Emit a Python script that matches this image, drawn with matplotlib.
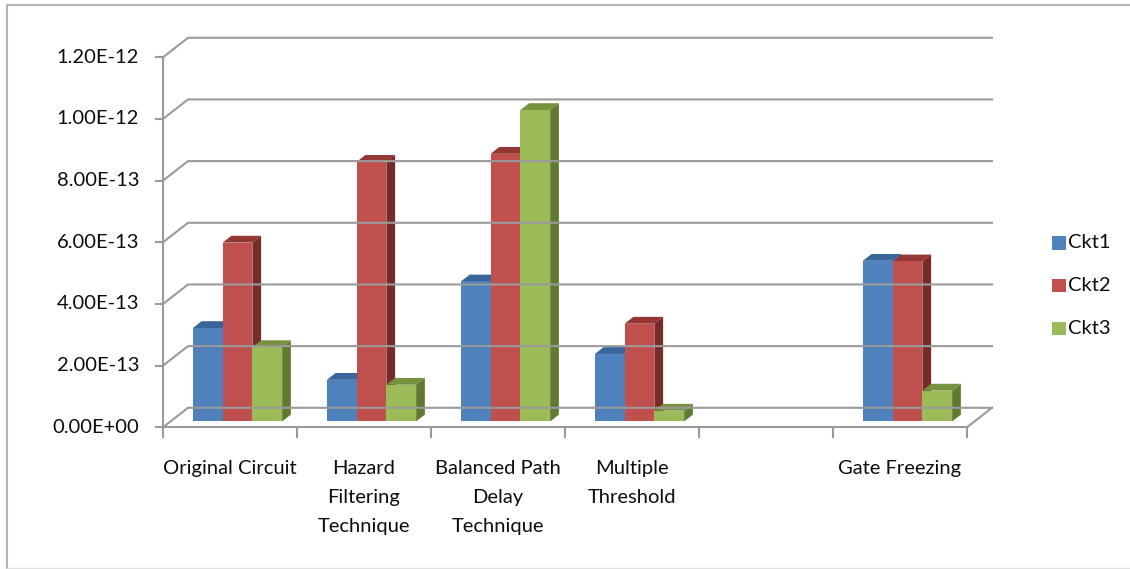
import matplotlib
matplotlib.use("Agg")
import matplotlib.pyplot as plt
from matplotlib.patches import Polygon, Rectangle
from matplotlib.lines import Line2D

plt.rcParams["font.family"] = ["Lato", "DejaVu Sans"]

# chart data
categories = ["Original Circuit", "Hazard\nFiltering\nTechnique",
              "Balanced Path\nDelay\nTechnique", "Multiple\nThreshold",
              "", "Gate Freezing"]
series_names = ["Ckt1", "Ckt2", "Ckt3"]
ckt1 = [3.03e-13, 1.35e-13, 4.54e-13, 2.19e-13, 0.0, 5.21e-13]
ckt2 = [5.80e-13, 8.42e-13, 8.68e-13, 3.17e-13, 0.0, 5.19e-13]
ckt3 = [2.41e-13, 1.19e-13, 1.01e-12, 0.35e-13, 0.0, 1.00e-13]
y_ticks = [0.0, 2e-13, 4e-13, 6e-13, 8e-13, 1e-12, 1.2e-12]
y_tick_labels = ["0.00E+00", "2.00E-13", "4.00E-13", "6.00E-13",
                 "8.00E-13", "1.00E-12", "1.20E-12"]

# colours: front face, side face, top face
face_cols = ["#4F81BD", "#C0504D", "#9BBB59"]
side_cols = ["#2C4D75", "#772C2A", "#617A32"]
top_cols = ["#3A659A", "#943634", "#76923C"]
grid_col = "#9A9A9A"
text_col = "#0D0D0D"

# layout in pixels
W, H = 1130, 569
left_px, floor_px = 163.0, 427.3
cat_px = 134.0
unit_px = 61.67 / 2e-13
depth_px = (25.0, 19.5)

n = len(categories)
ymax = y_ticks[-1]
DX = depth_px[0] / cat_px
DY = depth_px[1] / unit_px

fig = plt.figure(figsize=(W / 100, H / 100), dpi=100)
ax = fig.add_axes([left_px / W, (H - floor_px) / H,
                   (n * cat_px + depth_px[0]) / W,
                   (ymax * unit_px + depth_px[1]) / H])
ax.set_xlim(0, n + DX)
ax.set_ylim(0, ymax + DY)
ax.axis("off")


def proj(x, v, z):
    # oblique projection: depth z in [0, 1] shifts right and up
    return x + z * DX, v + z * DY


# back wall gridlines with the left wall diagonals
for t, lab in zip(y_ticks, y_tick_labels):
    pts = [proj(0, t, 0), proj(0, t, 1), proj(n, t, 1)]
    ax.plot([p[0] for p in pts], [p[1] for p in pts], color=grid_col,
            lw=1.5, clip_on=False, solid_joinstyle="miter")
    ax.plot([-7 / cat_px, 0], [t, t], color=grid_col, lw=1.5, clip_on=False)
    ax.text(-24 / cat_px, t, lab, ha="right", va="center",
            fontsize=14.5, color=text_col)

# value axis and floor edges
ax.plot([0, 0], [0, ymax], color=grid_col, lw=1.5, clip_on=False)
ax.plot([0, n], [0, 0], color=grid_col, lw=1.5, clip_on=False)
p0, p1 = proj(n, 0, 0), proj(n, 0, 1)
ax.plot([p0[0], p1[0]], [p0[1], p1[1]], color=grid_col, lw=1.5, clip_on=False)

# category ticks and labels
for i in range(n + 1):
    ax.plot([i, i], [0, -10 / unit_px], color=grid_col, lw=1.5, clip_on=False)
for i, lab in enumerate(categories):
    ax.text(i + 0.5, -33 / unit_px, lab, ha="center", va="top",
            fontsize=14.5, linespacing=1.85, color=text_col)

# 3-D columns
bar_w = 0.222
start = 0.5 - 1.5 * bar_w
z0, dz = 0.30, 0.35
series = [ckt1, ckt2, ckt3]
for i in range(n):
    for s, vals in enumerate(series):
        v = vals[i]
        if v <= 0:
            continue
        x0 = i + start + s * bar_w
        x1 = x0 + bar_w
        front = [proj(x0, 0, z0), proj(x1, 0, z0), proj(x1, v, z0), proj(x0, v, z0)]
        side = [proj(x1, 0, z0), proj(x1, 0, z0 + dz), proj(x1, v, z0 + dz), proj(x1, v, z0)]
        top = [proj(x0, v, z0), proj(x1, v, z0), proj(x1, v, z0 + dz), proj(x0, v, z0 + dz)]
        ax.add_patch(Polygon(side, closed=True, facecolor=side_cols[s], edgecolor="none"))
        ax.add_patch(Polygon(top, closed=True, facecolor=top_cols[s], edgecolor="none"))
        ax.add_patch(Polygon(front, closed=True, facecolor=face_cols[s], edgecolor="none"))

# legend
for s, name in enumerate(series_names):
    cy = 243 + s * 42.5
    fig.add_artist(Rectangle((1052 / W, 1 - (cy + 6.5) / H), 14 / W, 13 / H,
                             transform=fig.transFigure, facecolor=face_cols[s],
                             edgecolor="none"))
    fig.text(1068 / W, 1 - cy / H, name, ha="left", va="center",
             fontsize=14.5, color=text_col)

# chart frame
fig.add_artist(Line2D([7 / W, 7 / W], [1 - 5 / H, 1 - 568 / H],
                      transform=fig.transFigure, color="#B5B5B5", lw=1.5))
fig.add_artist(Line2D([7 / W, 1], [1 - 5 / H, 1 - 5 / H],
                      transform=fig.transFigure, color="#B5B5B5", lw=1.5))
fig.add_artist(Line2D([7 / W, 1], [1 - 568 / H, 1 - 568 / H],
                      transform=fig.transFigure, color="#E0E0E0", lw=1.0))

fig.savefig("out.png", dpi=100)
